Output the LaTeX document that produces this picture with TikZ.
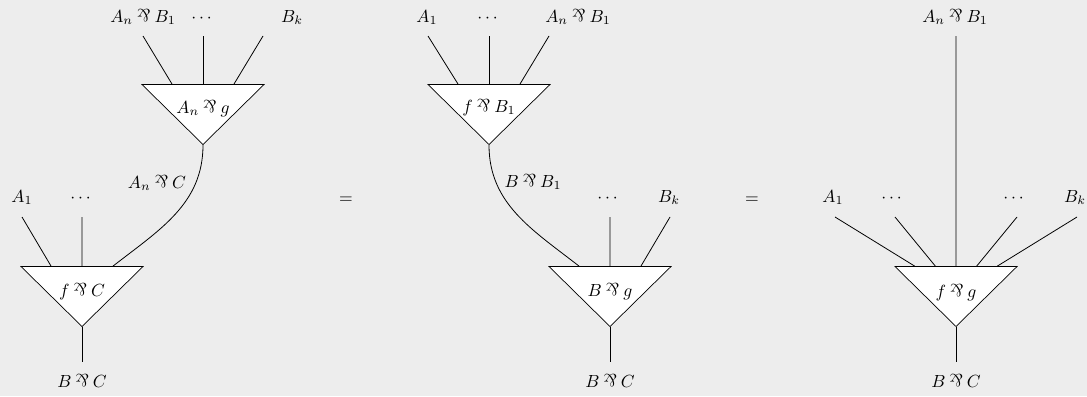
\documentclass[tikz,border=0pt]{standalone}
\usepackage{amsmath}
\usepackage{graphicx}
\usepackage{xcolor}
\usepackage{tikz}
\usetikzlibrary{shapes.geometric, positioning, calc}

\definecolor{bggray}{RGB}{237,237,237}
\newcommand{\parrsym}{\mathbin{\rotatebox[origin=c]{180}{$\&$}}}

\begin{document}
\begin{tikzpicture}[
    x=0.02cm, y=-0.02cm,
    celltri/.style={draw, fill=white, isosceles triangle, isosceles triangle apex angle=90, shape border rotate=270, isosceles triangle stretches, minimum width=24.4mm, minimum height=12mm, inner sep=0pt},
    wirelbl/.style={anchor=base, inner sep=0pt},
    wire/.style={line width=0.45pt},
]
% Background
\fill[bggray] (0,0) rectangle (1087,396);

% Diagram 1: (A_n par g) plugged into (f par C)
\node[celltri, anchor=apex] (g1) at (203,145) {};
\node[celltri, anchor=apex] (f1) at (82,327) {};
\node[wirelbl] (g1t) at ($(g1.apex)+(0,-32)$) {$A_n\parrsym g$};
\node[wirelbl] (f1t) at ($(f1.apex)+(0,-31)$) {$f\parrsym C$};

\node[wirelbl] (g1l1) at (143,22) {$A_n\parrsym B_1$};
\node[wirelbl] (g1l2) at (203,22) {$\cdots$};
\node[wirelbl] (g1l3) at (292,22) {$B_k$};
\node[wirelbl] (f1l1) at (22,202) {$A_1$};
\node[wirelbl] (f1l2) at (82,202) {$\cdots$};
\node[wirelbl] (c1l) at (157,188) {$A_n\parrsym C$};
\node[wirelbl] (f1out) at (82,387) {$B\parrsym C$};

\coordinate (g1w1) at (143,36);
\coordinate (g1w2) at (203,36);
\coordinate (g1w3) at (263,36);
\coordinate (f1w1) at (22,217);
\coordinate (f1w2) at (82,217);
\coordinate (f1o) at (82,362);

\draw[wire] (g1w1) -- ($(g1.right corner)!.25!(g1.left corner)$);
\draw[wire] (g1w2) -- ($(g1.right corner)!.5!(g1.left corner)$);
\draw[wire] (g1w3) -- ($(g1.right corner)!.75!(g1.left corner)$);
\draw[wire] (f1w1) -- ($(f1.right corner)!.25!(f1.left corner)$);
\draw[wire] (f1w2) -- ($(f1.right corner)!.5!(f1.left corner)$);
\draw[wire] (g1.apex) to[out=-90, in=38] ($(f1.right corner)!.75!(f1.left corner)$);
\draw[wire] (f1.apex) -- (f1o);

\node (eq1) at (346,200) {$=$};

% Diagram 2: (f par B_1) plugged into (B par g)
\node[celltri, anchor=apex] (f2) at (489,145) {};
\node[celltri, anchor=apex] (g2) at (610,327) {};
\node[wirelbl] (f2t) at ($(f2.apex)+(0,-33)$) {$f\parrsym B_1$};
\node[wirelbl] (g2t) at ($(g2.apex)+(0,-31)$) {$B\parrsym g$};

\node[wirelbl] (f2l1) at (427,22) {$A_1$};
\node[wirelbl] (f2l2) at (489,22) {$\cdots$};
\node[wirelbl] (f2l3) at (578,22) {$A_n\parrsym B_1$};
\node[wirelbl] (c2l) at (533,187) {$B\parrsym B_1$};
\node[wirelbl] (g2l1) at (609,202) {$\cdots$};
\node[wirelbl] (g2l2) at (669,202) {$B_k$};
\node[wirelbl] (g2out) at (610,387) {$B\parrsym C$};

\coordinate (f2w1) at (428,36);
\coordinate (f2w2) at (489,36);
\coordinate (f2w3) at (549,36);
\coordinate (g2w1) at (610,217);
\coordinate (g2w2) at (670,217);
\coordinate (g2o) at (610,362);

\draw[wire] (f2w1) -- ($(f2.right corner)!.25!(f2.left corner)$);
\draw[wire] (f2w2) -- ($(f2.right corner)!.5!(f2.left corner)$);
\draw[wire] (f2w3) -- ($(f2.right corner)!.75!(f2.left corner)$);
\draw[wire] (f2.apex) to[out=-90, in=142] ($(g2.right corner)!.25!(g2.left corner)$);
\draw[wire] (g2w1) -- ($(g2.right corner)!.5!(g2.left corner)$);
\draw[wire] (g2w2) -- ($(g2.right corner)!.75!(g2.left corner)$);
\draw[wire] (g2.apex) -- (g2o);

\node (eq2) at (752,200) {$=$};

% Diagram 3: f par g
\node[celltri, anchor=apex] (fg) at (956,327) {};
\node[wirelbl] (fgt) at ($(fg.apex)+(0,-30)$) {$f\parrsym g$};

\node[wirelbl] (fgl1) at (833,202) {$A_1$};
\node[wirelbl] (fgl2) at (893,202) {$\cdots$};
\node[wirelbl] (fgl3) at (955,22) {$A_n\parrsym B_1$};
\node[wirelbl] (fgl4) at (1015,202) {$\cdots$};
\node[wirelbl] (fgl5) at (1075,202) {$B_k$};
\node[wirelbl] (fgout) at (956,387) {$B\parrsym C$};

\coordinate (fgw1) at (835,217);
\coordinate (fgw2) at (895,217);
\coordinate (fgw3) at (956,36);
\coordinate (fgw4) at (1017,217);
\coordinate (fgw5) at (1077,217);
\coordinate (fgo) at (956,362);

\foreach \i/\f in {1/.1667, 2/.3333, 3/.5, 4/.6667, 5/.8333}
    \draw[wire] (fgw\i) -- ($(fg.right corner)!\f!(fg.left corner)$);
\draw[wire] (fg.apex) -- (fgo);
\end{tikzpicture}
\end{document}
